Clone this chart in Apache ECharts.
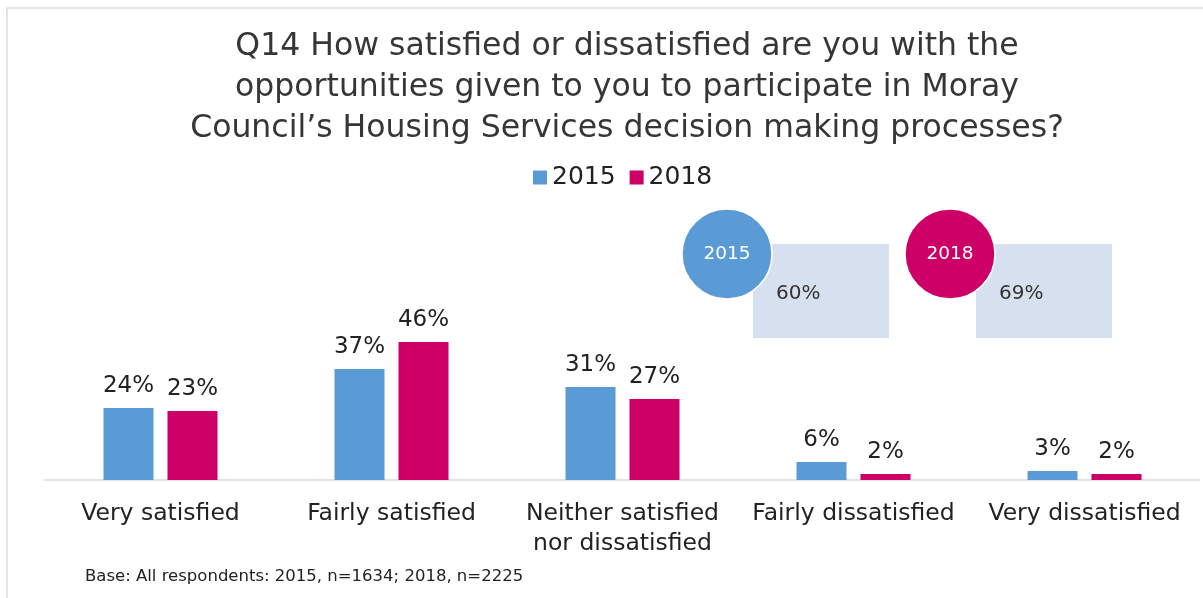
<!DOCTYPE html>
<html>
<head>
<meta charset="utf-8">
<script src="https://cdn.jsdelivr.net/npm/echarts@6/dist/echarts.min.js"></script>
<style>
html, body { margin: 0; padding: 0; background: #fff; }
#chart { width: 1203px; height: 598px; }
</style>
</head>
<body>
<div id="chart"></div>
<script>
// categories and values
const categories = ['Very satisfied', 'Fairly satisfied', 'Neither satisfied\nnor dissatisfied', 'Fairly dissatisfied', 'Very dissatisfied'];
const values2015 = [24, 37, 31, 6, 3];
const values2018 = [23, 46, 27, 2, 2];
// satisfied totals shown in the call-out boxes
const totalYears = ['2015', '2018'];
const totalSatisfied = ['60%', '69%'];

const BLUE = '#5B9BD5';
const RED = '#CC0066';
const FONT = 'DejaVu Sans';

const chart = echarts.init(document.getElementById('chart'));

// call-out: circle with the year overlapping a pale box with the total
function callout(cx, cy, year, total, color) {
  return [
    { type: 'rect', shape: { x: cx + 26, y: cy - 10, width: 136, height: 94 }, style: { fill: '#D6E0EE' } },
    { type: 'circle', shape: { cx: cx, cy: cy, r: 45 }, style: { fill: color, stroke: '#fff', lineWidth: 1.5 } },
    { type: 'text', x: cx, y: cy, style: { text: year, fill: '#fff', font: '18.5px ' + FONT, align: 'center', verticalAlign: 'middle' } },
    { type: 'text', x: cx + 49, y: cy + 40, style: { text: total, fill: '#333', font: '20px ' + FONT, verticalAlign: 'middle' } }
  ];
}

chart.setOption({
  textStyle: { fontFamily: FONT },
  title: {
    text: 'Q14 How satisfied or dissatisfied are you with the\nopportunities given to you to participate in Moray\nCouncil\u2019s Housing Services decision making processes?',
    left: 622,
    textAlign: 'center',
    top: 21,
    textStyle: { fontFamily: FONT, fontSize: 31.5, fontWeight: 'normal', color: '#363636', lineHeight: 41 }
  },
  legend: {
    data: ['2015', '2018'],
    left: 528,
    top: 160,
    itemWidth: 14,
    itemHeight: 14,
    itemGap: 14,
    icon: 'rect',
    textStyle: { fontSize: 25, color: '#222', fontFamily: FONT }
  },
  grid: { left: 45, right: 3, top: 180, bottom: 118 },
  xAxis: {
    type: 'category',
    data: categories,
    axisTick: { show: false },
    axisLine: { lineStyle: { color: '#D9D9D9', width: 1.5 } },
    axisLabel: { fontSize: 23.5, color: '#222', margin: 19, lineHeight: 30, fontFamily: FONT, interval: 0 }
  },
  yAxis: {
    type: 'value',
    min: 0,
    max: 100,
    show: false,
    splitLine: { show: false }
  },
  series: [
    {
      name: '2015', type: 'bar', data: values2015, barWidth: 50, barGap: '28%',
      itemStyle: { color: BLUE },
      label: { show: true, position: 'top', distance: 10, formatter: '{c}%', fontSize: 23, color: '#222', fontFamily: FONT }
    },
    {
      name: '2018', type: 'bar', data: values2018, barWidth: 50,
      itemStyle: { color: RED },
      label: { show: true, position: 'top', distance: 10, formatter: '{c}%', fontSize: 23, color: '#222', fontFamily: FONT }
    }
  ],
  graphic: [
    { type: 'rect', shape: { x: 7, y: 8, width: 1220, height: 620 }, style: { fill: 'none', stroke: '#DDDDDD', lineWidth: 1.5 }, silent: true },
    ...callout(727, 254, totalYears[0], totalSatisfied[0], BLUE),
    ...callout(950, 254, totalYears[1], totalSatisfied[1], RED),
    { type: 'text', left: 85, top: 568, style: { text: 'Base: All respondents: 2015, n=1634; 2018, n=2225', fill: '#222', font: '16.5px ' + FONT } }
  ]
});
</script>
</body>
</html>
